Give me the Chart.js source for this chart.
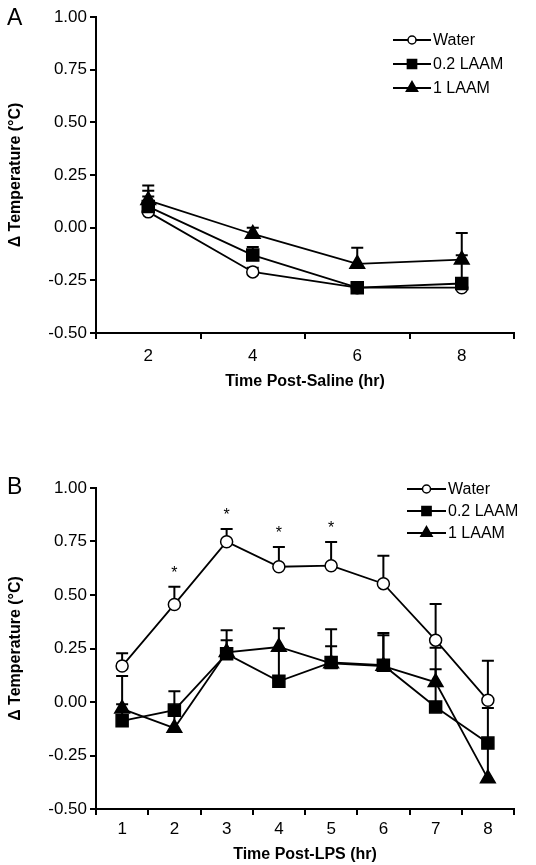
<!DOCTYPE html>
<html>
<head>
<meta charset="utf-8">
<script src="https://cdn.jsdelivr.net/npm/chart.js@4"></script>
<style>
  html, body { margin: 0; padding: 0; background: #fff; }
  #wrap { position: relative; width: 536px; height: 865px; }
  canvas { position: absolute; left: 0; }
  #cA { top: 0; }
  #cB { top: 420px; }
</style>
</head>
<body>
<div id="wrap">
  <canvas id="cA" width="536" height="420"></canvas>
  <canvas id="cB" width="536" height="445"></canvas>
</div>
<script>
// ---------- Data ----------
const seriesNames = ['Water', '0.2 LAAM', '1 LAAM'];
const yTickValues = [-0.50, -0.25, 0.00, 0.25, 0.50, 0.75, 1.00];

// Panel A (post-saline)
const hoursA = ['2', '4', '6', '8'];
const waterA = [0.075, -0.21, -0.285, -0.285];
const waterA_err = [0.148, -0.19, -0.27, -0.27];
const laam02A = [0.10, -0.13, -0.285, -0.265];
const laam02A_err = [0.175, -0.092, -0.27, -0.131];
const laam1A = [0.13, -0.03, -0.172, -0.152];
const laam1A_err = [0.20, 0.00, -0.095, -0.025];

// Panel B (post-LPS)
const hoursB = ['1', '2', '3', '4', '5', '6', '7', '8'];
const waterB = [0.168, 0.456, 0.749, 0.632, 0.637, 0.553, 0.289, 0.008];
const waterB_err = [0.228, 0.538, 0.808, 0.724, 0.748, 0.683, 0.458, 0.193];
const laam02B = [-0.088, -0.038, 0.225, 0.097, 0.185, 0.172, -0.023, -0.192];
const laam02B_err = [0.122, 0.05, 0.289, 0.24, 0.26, 0.312, 0.153, -0.028];
const laam1B = [-0.032, -0.122, 0.232, 0.257, 0.18, 0.168, 0.092, -0.358];
const laam1B_err = [-0.01, -0.06, 0.335, 0.345, 0.34, 0.323, 0.253, -0.2];
const starsB = [false, true, true, true, true, false, false, false];

const FONT = "'Liberation Sans', Arial, sans-serif";

// ---------- Plugins ----------
const errorBarPlugin = {
  id: 'errorBars',
  beforeDatasetsDraw(chart, args, opts) {
    const ctx = chart.ctx;
    const x = chart.scales.x, y = chart.scales.y;
    ctx.save();
    ctx.strokeStyle = '#000';
    ctx.lineWidth = 2;
    chart.data.datasets.forEach(ds => {
      (ds.errTop || []).forEach((top, i) => {
        if (top === null) return;
        const px = x.getPixelForValue(i);
        const p0 = y.getPixelForValue(ds.data[i]);
        const p1 = y.getPixelForValue(top);
        ctx.beginPath();
        ctx.moveTo(px, p0);
        ctx.lineTo(px, p1);
        ctx.moveTo(px - 6, p1);
        ctx.lineTo(px + 6, p1);
        ctx.stroke();
      });
    });
    ctx.restore();
  },
  afterDatasetsDraw(chart, args, opts) {
    const ctx = chart.ctx;
    const x = chart.scales.x, y = chart.scales.y;
    ctx.save();
    ctx.fillStyle = '#000';
    // significance stars
    if (opts.stars) {
      ctx.font = '16px ' + FONT;
      ctx.textAlign = 'center';
      ctx.textBaseline = 'middle';
      const ds = chart.data.datasets[0];
      opts.stars.forEach((s, i) => {
        if (!s) return;
        const px = x.getPixelForValue(i);
        const py = y.getPixelForValue(ds.errTop[i]) - 13;
        ctx.fillText('*', px, py);
      });
    }
    // panel letter
    ctx.font = '23px ' + FONT;
    ctx.textAlign = 'left';
    ctx.textBaseline = 'middle';
    ctx.fillText(opts.letter, opts.letterX, opts.letterY);
    // legend
    const L = opts.legend;
    chart.data.datasets.forEach((ds, i) => {
      const ry = L.y + i * L.dy;
      ctx.strokeStyle = '#000';
      ctx.lineWidth = 2;
      ctx.beginPath();
      ctx.moveTo(L.x0, ry);
      ctx.lineTo(L.x1, ry);
      ctx.stroke();
      const mx = (L.x0 + L.x1) / 2;
      ctx.fillStyle = ds.pointBackgroundColor;
      ctx.strokeStyle = '#000';
      ctx.lineWidth = 1.5;
      Chart.helpers.drawPoint(ctx, {
        pointStyle: ds.pointStyle,
        radius: ds.legendRadius,
        borderWidth: 1.5,
        rotation: 0
      }, mx, ry);
      ctx.fillStyle = '#000';
      ctx.font = '16px ' + FONT;
      ctx.textAlign = 'left';
      ctx.textBaseline = 'middle';
      ctx.fillText(ds.label, L.x1 + 2, ry + 1);
    });
    ctx.restore();
  }
};

function makeDatasets(w, we, a, ae, b, be) {
  const common = { borderColor: '#000', borderWidth: 1.8, tension: 0, pointBorderColor: '#000', pointBorderWidth: 1.5 };
  return [
    Object.assign({}, common, { label: seriesNames[0], data: w, errTop: we, pointStyle: 'circle', pointRadius: 6, pointBackgroundColor: '#fff', legendRadius: 4, order: 3 }),
    Object.assign({}, common, { label: seriesNames[1], data: a, errTop: ae, pointStyle: 'rect', pointRadius: 8.5, pointBackgroundColor: '#000', legendRadius: 6.5, order: 2 }),
    Object.assign({}, common, { label: seriesNames[2], data: b, errTop: be, pointStyle: 'triangle', pointRadius: 8.5, pointBackgroundColor: '#000', legendRadius: 6.5, order: 1 })
  ];
}

function makeOptions(cfg) {
  return {
    responsive: false,
    animation: false,
    layout: { padding: { top: cfg.top, right: 22, left: 0, bottom: 0 } },
    plugins: {
      legend: { display: false },
      tooltip: { enabled: false },
      errorBars: { stars: cfg.stars, letter: cfg.letter, letterX: 7, letterY: cfg.letterY, legend: cfg.legend }
    },
    scales: {
      x: {
        type: 'category',
        offset: true,
        grid: { offset: true, drawOnChartArea: false, drawTicks: true, tickLength: 6, color: '#000', lineWidth: 2 },
        border: { display: true, color: '#000', width: 2 },
        ticks: { color: '#000', font: { family: FONT, size: 17 }, padding: cfg.xTickPad, maxRotation: 0 },
        title: { display: true, text: cfg.xTitle, color: '#000', font: { family: FONT, size: 16, weight: 'bold' }, padding: { top: 0, bottom: cfg.xTitlePad } },
        afterFit(s) { s.height = cfg.xHeight; }
      },
      y: {
        min: -0.5, max: 1.0,
        afterBuildTicks(s) { s.ticks = yTickValues.map(v => ({ value: v })); },
        grid: { drawOnChartArea: false, drawTicks: true, tickLength: 6, color: '#000', lineWidth: 2 },
        border: { display: true, color: '#000', width: 2 },
        ticks: { color: '#000', font: { family: FONT, size: 17 }, padding: 3, callback: v => Number(v).toFixed(2) },
        title: { display: true, text: '\u0394 Temperature (\u00B0C)', color: '#000', font: { family: FONT, size: 16, weight: 'bold' }, padding: { top: 6, bottom: 0 } },
        afterFit(s) { s.width = 96; }
      }
    }
  };
}

new Chart(document.getElementById('cA'), {
  type: 'line',
  data: { labels: hoursA, datasets: makeDatasets(waterA, waterA_err, laam02A, laam02A_err, laam1A, laam1A_err) },
  options: makeOptions({ top: 17, xHeight: 87, xTickPad: 7, xTitle: 'Time Post-Saline (hr)', xTitlePad: 29, letter: 'A', letterY: 19, legend: { x0: 393, x1: 431, y: 40, dy: 24 } }),
  plugins: [errorBarPlugin]
});

new Chart(document.getElementById('cB'), {
  type: 'line',
  data: { labels: hoursB, datasets: makeDatasets(waterB, waterB_err, laam02B, laam02B_err, laam1B, laam1B_err) },
  options: makeOptions({ top: 68, xHeight: 56, xTickPad: 4, xTitle: 'Time Post-LPS (hr)', xTitlePad: 1, stars: starsB, letter: 'B', letterY: 68, legend: { x0: 407, x1: 446, y: 69, dy: 22 } }),
  plugins: [errorBarPlugin]
});
</script>
</body>
</html>
